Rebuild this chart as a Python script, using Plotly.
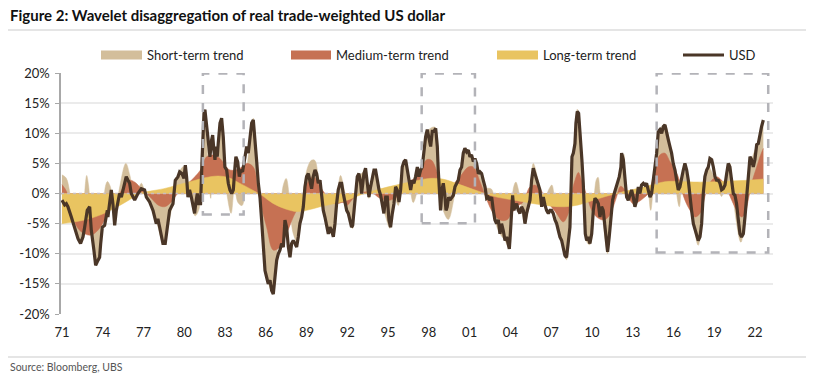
import plotly.graph_objects as go

# ---------------- data ----------------
usd_points = [
    (1971.00, -1.1), (1971.20, -1.9), (1971.32, -1.7), (1971.44, -2.2), (1971.69, -3.9), (1971.93, -5.6),
    (1972.18, -7.5), (1972.37, -8.3), (1972.55, -7.2), (1972.67, -5.6), (1972.86, -2.8), (1973.04, -2.2),
    (1973.16, -6.1), (1973.35, -9.4), (1973.48, -11.9), (1973.65, -11.1), (1973.77, -10.6), (1973.85, -8.3),
    (1973.97, -5.6), (1974.14, -5.3), (1974.34, -2.8), (1974.38, -3.9), (1974.51, -1.4), (1974.63, 0.6),
    (1974.75, -1.7), (1974.88, -5.3), (1975.00, -2.8), (1975.12, -1.1), (1975.24, 0.0), (1975.37, -0.6),
    (1975.49, 0.6), (1975.61, 1.7), (1975.73, 2.8), (1975.86, 2.2), (1975.98, 1.7), (1976.10, 0.0),
    (1976.35, -1.1), (1976.59, 0.0), (1976.84, 0.8), (1977.08, 0.6), (1977.21, -0.6), (1977.45, -1.4),
    (1977.70, -2.8), (1977.94, -5.0), (1978.06, -4.2), (1978.19, -5.6), (1978.43, -8.3), (1978.60, -8.3),
    (1978.75, -6.1), (1978.92, -2.8), (1979.17, -1.7), (1979.34, 2.2), (1979.54, 2.8), (1979.66, 3.6),
    (1979.83, 3.3), (1979.98, 2.5), (1980.08, 4.7), (1980.17, 2.8), (1980.27, -0.6), (1980.39, 0.6),
    (1980.52, -0.6), (1980.64, -1.7), (1980.76, -3.3), (1980.84, -1.7), (1980.96, 0.0), (1981.06, -1.7),
    (1981.20, -1.7), (1981.30, 5.0), (1981.38, 10.0), (1981.45, 13.3), (1981.52, 13.9), (1981.65, 11.1),
    (1981.77, 7.8), (1981.89, 6.1), (1982.01, 8.9), (1982.09, 9.7), (1982.18, 7.2), (1982.26, 5.6),
    (1982.33, 7.8), (1982.43, 6.1), (1982.50, 8.3), (1982.63, 11.7), (1982.75, 12.5), (1982.87, 9.4),
    (1982.99, 4.4), (1983.12, 3.9), (1983.24, 1.7), (1983.36, 0.6), (1983.49, 0.0), (1983.61, 0.6),
    (1983.73, 4.4), (1983.80, 6.1), (1983.93, 5.3), (1984.05, 2.8), (1984.15, 3.9), (1984.29, 3.6),
    (1984.47, 6.1), (1984.59, 7.8), (1984.71, 6.7), (1984.83, 8.9), (1984.96, 11.7), (1985.08, 12.2),
    (1985.20, 9.4), (1985.32, 5.6), (1985.45, 1.7), (1985.57, -0.6), (1985.69, -4.4), (1985.82, -8.9),
    (1985.94, -12.8), (1986.06, -13.9), (1986.18, -15.0), (1986.31, -14.4), (1986.43, -16.1), (1986.55, -16.7),
    (1986.67, -13.3), (1986.80, -11.1), (1986.92, -10.0), (1987.04, -9.4), (1987.16, -8.3), (1987.29, -8.9),
    (1987.41, -4.4), (1987.53, -5.6), (1987.66, -8.9), (1987.78, -10.6), (1987.90, -8.3), (1988.02, -7.8),
    (1988.15, -8.3), (1988.27, -8.9), (1988.39, -7.2), (1988.51, -5.0), (1988.64, -3.9), (1988.76, -2.2),
    (1988.88, 1.1), (1989.00, 2.8), (1989.13, 3.3), (1989.25, 2.2), (1989.37, 0.8), (1989.49, 2.8),
    (1989.62, 3.9), (1989.74, 3.3), (1989.86, 1.7), (1989.99, 2.2), (1990.11, -0.6), (1990.23, -2.8),
    (1990.35, -3.9), (1990.48, -5.6), (1990.60, -6.7), (1990.72, -5.6), (1990.84, -6.1), (1990.97, -7.2),
    (1991.09, -5.0), (1991.21, -1.7), (1991.33, 0.6), (1991.46, 1.7), (1991.58, 1.7), (1991.70, 0.0),
    (1991.82, -1.1), (1991.95, -2.8), (1992.07, -3.3), (1992.19, -4.4), (1992.31, -5.6), (1992.39, -5.3),
    (1992.49, -2.8), (1992.61, 0.0), (1992.73, 2.8), (1992.85, 3.3), (1992.98, 1.7), (1993.05, 0.0),
    (1993.12, 1.7), (1993.22, 3.3), (1993.34, 4.2), (1993.47, 1.7), (1993.59, -0.6), (1993.71, 1.1),
    (1993.83, 2.2), (1993.96, 3.9), (1994.08, 3.9), (1994.20, 2.2), (1994.33, 0.6), (1994.45, -0.3),
    (1994.57, -1.7), (1994.69, -3.3), (1994.82, -0.6), (1994.94, -0.6), (1995.06, -4.4), (1995.18, -5.6),
    (1995.31, -3.3), (1995.43, -1.7), (1995.55, 1.1), (1995.67, 0.6), (1995.80, -1.4), (1995.92, 0.6),
    (1996.04, 4.4), (1996.17, 5.3), (1996.29, 5.6), (1996.41, 3.9), (1996.53, 1.7), (1996.66, 0.6),
    (1996.78, 2.2), (1996.90, 1.7), (1997.02, 2.8), (1997.15, 4.4), (1997.27, 2.8), (1997.39, 3.9),
    (1997.51, 4.4), (1997.64, 7.2), (1997.76, 9.4), (1997.88, 10.6), (1998.00, 9.4), (1998.13, 7.8),
    (1998.25, 10.3), (1998.37, 10.3), (1998.50, 10.8), (1998.62, 7.8), (1998.69, 3.9), (1998.77, -0.6),
    (1998.86, -2.8), (1998.96, 0.6), (1999.06, 1.7), (1999.16, 0.0), (1999.26, -2.8), (1999.35, -2.2),
    (1999.45, -0.6), (1999.55, -1.1), (1999.67, -0.6), (1999.80, -0.3), (1999.92, 1.1), (2000.04, 1.7),
    (2000.16, 2.2), (2000.29, 3.9), (2000.41, 4.4), (2000.53, 6.7), (2000.65, 7.5), (2000.78, 6.9),
    (2000.90, 7.2), (2001.02, 6.1), (2001.14, 6.4), (2001.27, 5.3), (2001.39, 5.8), (2001.51, 5.0),
    (2001.64, 3.3), (2001.76, 3.6), (2001.88, 3.3), (2002.00, 2.2), (2002.13, 1.1), (2002.25, -0.8),
    (2002.37, -0.6), (2002.49, -1.1), (2002.62, -0.6), (2002.74, -2.8), (2002.86, -4.4), (2002.98, -5.0),
    (2003.11, -4.4), (2003.23, -6.7), (2003.35, -5.0), (2003.47, -6.1), (2003.60, -7.8), (2003.72, -7.2),
    (2003.84, -8.9), (2003.92, -9.2), (2004.01, -6.1), (2004.09, -2.8), (2004.16, -0.3), (2004.26, -2.8),
    (2004.33, -2.2), (2004.46, -1.7), (2004.58, -2.8), (2004.70, -3.3), (2004.82, -2.2), (2004.95, -2.8),
    (2005.07, -5.0), (2005.19, -3.3), (2005.31, -2.2), (2005.44, -1.1), (2005.56, 2.2), (2005.68, 4.2),
    (2005.80, 3.3), (2005.93, 2.2), (2006.05, 1.7), (2006.17, 0.6), (2006.30, -2.2), (2006.42, -0.6),
    (2006.54, -1.9), (2006.66, -2.8), (2006.79, -3.3), (2006.91, -2.8), (2007.03, -2.8), (2007.15, -3.3),
    (2007.28, -4.4), (2007.40, -5.0), (2007.52, -6.1), (2007.64, -7.2), (2007.77, -7.8), (2007.89, -9.4),
    (2008.01, -10.3), (2008.13, -10.6), (2008.26, -8.3), (2008.38, -5.6), (2008.45, 0.0), (2008.53, 6.1),
    (2008.63, 6.7), (2008.75, 8.3), (2008.82, 11.7), (2008.92, 13.6), (2009.02, 13.3), (2009.12, 10.6),
    (2009.19, 7.8), (2009.26, 5.6), (2009.36, 1.7), (2009.43, -2.8), (2009.51, -6.7), (2009.61, -7.8),
    (2009.73, -7.2), (2009.85, -8.3), (2009.98, -6.7), (2010.10, -2.8), (2010.22, -0.8), (2010.34, -1.1),
    (2010.47, -1.7), (2010.59, -3.9), (2010.71, -2.2), (2010.83, -2.8), (2010.96, -5.6), (2011.08, -9.4),
    (2011.15, -9.7), (2011.27, -7.2), (2011.40, -3.9), (2011.52, -1.1), (2011.64, 0.0), (2011.77, 1.1),
    (2011.89, 1.7), (2012.01, 2.8), (2012.13, 4.4), (2012.18, 6.7), (2012.31, 5.6), (2012.43, 2.2),
    (2012.55, -0.6), (2012.67, -1.1), (2012.80, -0.3), (2012.92, 0.6), (2013.04, -0.6), (2013.16, -2.2),
    (2013.29, -1.1), (2013.41, 1.1), (2013.53, 0.0), (2013.65, 1.4), (2013.78, 1.7), (2013.90, 1.4),
    (2014.02, 1.7), (2014.14, 0.6), (2014.27, -0.6), (2014.39, 0.0), (2014.51, 2.2), (2014.64, 4.4),
    (2014.76, 6.7), (2014.88, 10.3), (2015.00, 10.6), (2015.13, 10.0), (2015.25, 11.1), (2015.37, 11.4),
    (2015.49, 10.0), (2015.62, 8.9), (2015.74, 7.8), (2015.86, 6.7), (2015.98, 5.0), (2016.11, 3.9),
    (2016.23, 2.2), (2016.35, 0.6), (2016.47, 1.1), (2016.60, 2.8), (2016.72, 3.9), (2016.84, 5.0),
    (2016.97, 3.9), (2017.09, 2.2), (2017.21, -0.6), (2017.33, -2.8), (2017.46, -5.0), (2017.58, -6.1),
    (2017.70, -7.2), (2017.82, -7.8), (2017.95, -7.2), (2018.07, -5.0), (2018.19, 0.0), (2018.31, 2.8),
    (2018.44, 3.9), (2018.56, 4.4), (2018.68, 5.8), (2018.81, 5.6), (2018.93, 4.4), (2019.05, 2.8),
    (2019.17, 2.2), (2019.30, 2.2), (2019.42, 1.7), (2019.54, 0.6), (2019.66, 0.8), (2019.79, 1.4),
    (2019.91, 3.3), (2020.03, 5.0), (2020.15, 4.4), (2020.28, 1.7), (2020.40, 0.0), (2020.52, -0.3),
    (2020.64, -1.7), (2020.77, -4.4), (2020.89, -6.7), (2021.01, -7.2), (2021.14, -6.7), (2021.26, -3.9),
    (2021.38, -0.6), (2021.50, 2.8), (2021.63, 6.1), (2021.75, 5.6), (2021.87, 4.4), (2021.99, 5.6),
    (2022.12, 8.1), (2022.24, 8.3), (2022.36, 10.0), (2022.48, 11.1), (2022.61, 12.2),
]

short_points = [
    (1971.00, 3.1), (1971.30, 2.6), (1971.55, 0.5), (1971.80, -4.5), (1972.10, -6.5), (1972.40, -8.0),
    (1972.60, -4.0), (1972.70, 1.0), (1972.82, 3.0), (1972.95, 1.5), (1973.05, -1.0), (1973.30, -8.5),
    (1973.50, -11.5), (1973.75, -10.0), (1974.05, -3.0), (1974.20, 1.2), (1974.35, 2.0), (1974.50, 1.5),
    (1974.65, 0.3), (1974.85, -4.0), (1975.20, 0.5), (1975.70, 5.0), (1976.00, 3.0), (1976.35, -1.0),
    (1976.70, 1.2), (1976.85, 1.7), (1977.00, 1.0), (1977.20, 0.0), (1977.60, -2.5), (1978.00, -5.0),
    (1978.45, -8.3), (1978.80, -5.5), (1979.20, -1.0), (1979.60, 3.5), (1980.00, 4.5), (1980.40, 0.5),
    (1980.80, -3.7), (1981.10, -2.5), (1981.28, 8.0), (1981.50, 13.5), (1981.75, 6.0), (1981.95, -0.8),
    (1982.15, 5.0), (1982.40, 4.0), (1982.70, 12.0), (1982.90, 6.0), (1983.20, -1.0), (1983.45, -3.3),
    (1983.70, 1.0), (1983.95, -1.5), (1984.25, -2.0), (1984.55, 3.0), (1984.85, 9.0), (1985.08, 12.5),
    (1985.35, 4.0), (1985.60, -2.0), (1985.90, -11.0), (1986.10, -14.0), (1986.45, -16.3), (1986.65, -13.5),
    (1986.90, -8.0), (1987.10, -2.0), (1987.30, 1.5), (1987.50, 2.5), (1987.75, -1.0), (1988.00, -6.5),
    (1988.30, -8.0), (1988.60, -4.0), (1988.90, 2.5), (1989.10, 4.5), (1989.35, 5.5), (1989.60, 5.5),
    (1989.85, 3.0), (1990.10, -1.0), (1990.40, -4.5), (1990.70, -6.5), (1991.00, -6.8), (1991.25, -1.0),
    (1991.50, 3.0), (1991.82, 0.0), (1992.19, -5.0), (1992.39, -5.8), (1992.68, 1.0), (1992.93, 3.0),
    (1993.22, 3.5), (1993.59, -0.8), (1993.91, 3.8), (1994.15, 3.0), (1994.52, -1.5), (1994.77, -3.5),
    (1995.14, -5.8), (1995.50, -1.0), (1995.75, -2.0), (1995.99, 3.0), (1996.24, 5.5), (1996.61, 1.0),
    (1996.85, -1.5), (1997.34, 2.5), (1997.71, 8.0), (1997.96, 10.5), (1998.45, 11.0), (1998.69, 3.0),
    (1998.94, -2.0), (1999.43, -4.3), (1999.92, 0.0), (2000.29, 3.5), (2000.65, 7.5), (2001.02, 6.5),
    (2001.39, 5.5), (2001.76, 3.0), (2002.13, 1.0), (2002.62, 0.7), (2002.86, -4.5), (2003.23, -6.7),
    (2003.60, -7.8), (2003.92, -9.2), (2004.09, -2.0), (2004.25, 1.2), (2004.40, 1.9), (2004.55, 1.0),
    (2004.75, -1.5), (2005.07, -5.0), (2005.44, -1.0), (2005.68, 5.0), (2006.05, 2.0), (2006.30, -2.0),
    (2006.60, -0.5), (2006.90, 1.0), (2007.05, 1.4), (2007.20, 0.0), (2007.45, -5.0), (2007.89, -9.5),
    (2008.13, -11.0), (2008.38, -6.0), (2008.63, 6.5), (2008.92, 14.0), (2009.12, 11.0), (2009.36, 2.0),
    (2009.61, -8.0), (2009.85, -8.5), (2010.20, 0.5), (2010.32, 2.3), (2010.45, 2.7), (2010.58, 0.5),
    (2010.75, -3.0), (2011.15, -10.0), (2011.45, -2.0), (2011.81, 1.0), (2012.18, 4.5), (2012.35, 6.5),
    (2012.55, 0.0), (2012.80, -1.0), (2013.16, -2.0), (2013.53, -0.5), (2014.02, 1.5), (2014.32, -2.8),
    (2014.51, 1.0), (2014.76, 6.5), (2015.00, 10.5), (2015.37, 11.5), (2015.74, 8.0), (2016.11, 2.0),
    (2016.43, -2.2), (2016.72, 4.0), (2016.97, 3.0), (2017.33, -3.0), (2017.82, -8.6), (2018.19, -1.0),
    (2018.56, 4.5), (2018.93, 3.0), (2019.30, 1.0), (2019.54, -0.5), (2019.96, 4.0), (2020.15, 5.0),
    (2020.40, -1.0), (2020.96, -8.1), (2021.38, -1.0), (2021.75, 5.5), (2022.12, 8.0), (2022.48, 10.5),
    (2022.61, 12.0),
]

medium_points = [
    (1971.00, 1.5), (1971.35, 0.3), (1971.55, -1.5), (1971.80, -4.0), (1972.18, -5.8), (1972.67, -6.7),
    (1973.16, -6.9), (1973.65, -6.1), (1974.14, -4.4), (1974.63, -2.2), (1975.00, -0.6), (1975.24, 0.0),
    (1975.61, 1.4), (1975.98, 2.2), (1976.35, 1.9), (1976.84, 0.8), (1977.21, 0.0), (1977.57, -0.8),
    (1978.06, -1.9), (1978.55, -2.2), (1979.05, -1.4), (1979.41, -0.3), (1979.78, 0.8), (1980.52, 2.2),
    (1981.16, 3.8), (1981.65, 6.1), (1982.14, 6.4), (1982.63, 5.8), (1983.36, 3.9), (1984.10, 4.2),
    (1984.59, 5.0), (1985.08, 4.4), (1985.45, 0.0), (1986.06, -5.6), (1986.55, -9.4), (1987.04, -8.9),
    (1987.53, -6.7), (1988.02, -3.9), (1988.51, -1.7), (1988.76, 0.0), (1989.00, 1.5), (1989.49, 2.8),
    (1989.99, 1.1), (1990.35, 0.0), (1990.72, -1.4), (1991.21, -1.7), (1991.70, -1.5), (1991.95, -2.0),
    (1992.44, -0.8), (1992.93, 0.0), (1993.42, 0.3), (1993.91, 0.0), (1994.40, -0.8), (1995.14, -1.1),
    (1995.63, -0.6), (1996.12, 0.5), (1996.61, 2.0), (1997.22, 3.0), (1997.83, 5.6), (1998.20, 5.5),
    (1998.81, 2.2), (1999.31, 0.0), (1999.80, 1.5), (2000.29, 2.8), (2000.90, 4.4), (2001.27, 4.4),
    (2001.76, 2.0), (2002.25, -1.0), (2002.74, -3.3), (2003.23, -4.4), (2003.72, -4.4), (2004.09, -3.3),
    (2004.46, -2.2), (2004.95, -1.4), (2005.19, 0.0), (2005.44, 1.1), (2005.80, 1.4), (2006.17, 0.8),
    (2006.54, -0.6), (2006.91, -1.9), (2007.40, -3.3), (2007.89, -4.7), (2008.26, -3.3), (2008.50, 0.0),
    (2008.75, 2.2), (2009.00, 3.5), (2009.24, 2.2), (2009.61, -0.3), (2009.98, -2.8), (2010.34, -3.9),
    (2010.83, -4.4), (2011.20, -3.9), (2011.57, -2.2), (2011.81, -0.6), (2012.10, 1.2), (2012.43, 0.6),
    (2012.67, -0.6), (2013.04, -1.7), (2013.41, -1.4), (2013.78, -0.8), (2014.14, 0.0), (2014.39, 1.7),
    (2014.64, 4.4), (2015.00, 6.4), (2015.37, 6.7), (2015.74, 5.3), (2016.11, 3.9), (2016.35, 2.8),
    (2016.60, 0.6), (2016.84, -1.1), (2017.21, -2.8), (2017.58, -3.9), (2017.95, -3.3), (2018.19, -1.7),
    (2018.44, 0.6), (2018.81, 2.2), (2019.17, 2.8), (2019.54, 2.2), (2019.91, 0.8), (2020.28, -1.1),
    (2020.64, -2.8), (2021.01, -3.9), (2021.26, -3.3), (2021.50, -1.1), (2021.75, 1.7), (2022.12, 4.4),
    (2022.36, 6.1), (2022.61, 7.5),
]

long_points = [
    (1971.0, -5.0), (1972.0, -4.7), (1973.0, -4.2), (1974.0, -3.4), (1975.0, -2.3), (1976.0, -1.0),
    (1976.7, 0.0), (1977.5, 0.4), (1978.5, 0.8), (1979.5, 1.4), (1980.5, 2.0), (1981.5, 2.6),
    (1982.5, 2.9), (1983.3, 2.6), (1984.0, 1.8), (1985.0, 0.6), (1985.7, -0.3), (1986.5, -1.6),
    (1987.5, -2.6), (1988.3, -3.0), (1989.0, -2.8), (1990.0, -2.2), (1991.0, -1.7), (1992.0, -1.1),
    (1993.0, -0.2), (1994.0, 0.5), (1995.0, 1.1), (1996.0, 1.6), (1997.0, 2.1), (1998.0, 2.5),
    (1999.0, 2.4), (2000.0, 1.7), (2001.0, 0.9), (2002.0, 0.1), (2003.0, -0.6), (2004.0, -1.0),
    (2005.0, -1.4), (2006.0, -1.8), (2007.0, -2.1), (2008.0, -2.2), (2009.0, -1.9), (2010.0, -1.2),
    (2011.0, -0.5), (2011.8, 0.0), (2012.5, 0.4), (2013.5, 0.9), (2014.5, 1.5), (2015.5, 2.0),
    (2016.5, 2.0), (2017.5, 1.9), (2018.5, 1.9), (2019.5, 2.0), (2020.5, 2.1), (2021.5, 2.2),
    (2022.61, 2.4),
]

series_names = ["Short-term trend", "Medium-term trend", "Long-term trend", "USD"]
tick_years = [1971, 1974, 1977, 1980, 1983, 1986, 1989, 1992, 1995, 1998, 2001, 2004, 2007, 2010, 2013,
              2016, 2019, 2022]
tick_labels = ["71", "74", "77", "80", "83", "86", "89", "92", "95", "98", "01", "04", "07", "10", "13",
               "16", "19", "22"]
y_ticks = [-20, -15, -10, -5, 0, 5, 10, 15, 20]
y_tick_labels = ["-20%", "-15%", "-10%", "-5%", "0%", "5%", "10%", "15%", "20%"]
# highlighted periods: (start, end, lower bound of box)
highlight_periods = [(1981.37, 1984.37, -3.5), (1997.47, 2001.39, -4.95), (2014.76, 2022.97, -9.8)]

title_text = "Figure 2: Wavelet disaggregation of real trade-weighted US dollar"
source_text = "Source: Bloomberg, UBS"

# ---------------- styling ----------------
TAN, RED, YEL, BROWN = "#D3BE9B", "#C67153", "#E9C461", "#4A3627"
FONT = "Lato"
TXT = "#222222"
W, H = 828, 374
PL, PR, PT, PB = 61, 773, 73, 314
X_RANGE = [1970.93, 1970.93 + (PR - PL) / 13.59]


def px(x):
    return (x - PL) / (PR - PL)


def py(y):
    return (PB - y) / (PB - PT)


def unzip(points):
    return [p[0] for p in points], [p[1] for p in points]


fig = go.Figure()
area_specs = [(short_points, TAN, series_names[0]),
              (medium_points, RED, series_names[1]),
              (long_points, YEL, series_names[2])]
for pts, col, name in area_specs:
    xs, ys = unzip(pts)
    fig.add_trace(go.Scatter(x=xs, y=ys, name=name, mode="lines", fill="tozeroy",
                             fillcolor=col, line=dict(color=col, width=0.5, shape="spline", smoothing=1.0),
                             showlegend=False, hoverinfo="skip"))

ux, uy = unzip(usd_points)
# dotted zero reference line
fig.add_trace(go.Scatter(x=[X_RANGE[0], ux[-1]], y=[0, 0], mode="lines",
                         line=dict(color="#C9BDBD", width=1.5, dash="dot"),
                         showlegend=False, hoverinfo="skip"))
fig.add_trace(go.Scatter(x=ux, y=uy, name=series_names[3], mode="lines",
                         line=dict(color=BROWN, width=3.2), showlegend=False))

shapes = []
for x0, x1, ylo in highlight_periods:
    shapes.append(dict(type="rect", xref="x", yref="y", x0=x0, x1=x1, y0=ylo, y1=19.9,
                       line=dict(color="#B3B3B8", width=2.5, dash="dash"), fillcolor="rgba(0,0,0,0)",
                       layer="above"))

# header / footer rules
shapes.append(dict(type="line", xref="paper", yref="paper", x0=px(8), x1=px(806), y0=py(30), y1=py(30),
                   line=dict(color="#CCCCCC", width=1.2)))
shapes.append(dict(type="line", xref="paper", yref="paper", x0=px(8), x1=px(806), y0=py(357), y1=py(357),
                   line=dict(color="#CCCCCC", width=1.2)))

annotations = [
    dict(text="<b>" + title_text + "</b>", xref="paper", yref="paper", x=px(8), y=py(15),
         xanchor="left", yanchor="middle", showarrow=False, font=dict(family=FONT, size=15, color="#111111")),
    dict(text=source_text, xref="paper", yref="paper", x=px(8), y=py(367),
         xanchor="left", yanchor="middle", showarrow=False, font=dict(family=FONT, size=10.5, color="#555555")),
]

# manual legend
legend_items = [(101, 142, TAN, "rect"), (291, 331, RED, "rect"), (497, 538, YEL, "rect"), (683, 724, BROWN, "line")]
for (x0, x1, col, kind), name in zip(legend_items, series_names):
    if kind == "rect":
        shapes.append(dict(type="rect", xref="paper", yref="paper", x0=px(x0), x1=px(x1), y0=py(59.5),
                           y1=py(50.5), fillcolor=col, line=dict(width=0)))
    else:
        shapes.append(dict(type="line", xref="paper", yref="paper", x0=px(x0), x1=px(x1), y0=py(55),
                           y1=py(55), line=dict(color=col, width=3)))
    annotations.append(dict(text=name, xref="paper", yref="paper", x=px(x1 + 3), y=py(55),
                            xanchor="left", yanchor="middle", showarrow=False,
                            font=dict(family=FONT, size=13, color=TXT)))

fig.update_layout(
    width=W, height=H,
    margin=dict(l=PL, r=W - PR, t=PT, b=H - PB, pad=0),
    paper_bgcolor="white", plot_bgcolor="white",
    showlegend=False,
    shapes=shapes, annotations=annotations,
    font=dict(family=FONT, size=13, color=TXT),
    xaxis=dict(range=X_RANGE, tickmode="array", tickvals=tick_years, ticktext=tick_labels,
               showgrid=False, zeroline=False, showline=False, ticks="",
               tickfont=dict(family=FONT, size=13, color=TXT), ticklabelstandoff=9),
    yaxis=dict(range=[-20, 20], tickmode="array", tickvals=y_ticks, ticktext=y_tick_labels,
               showgrid=True, gridcolor="#EBEBEB", gridwidth=1.5, zeroline=False,
               showline=True, linecolor="#A8A8A8", linewidth=1.5,
               ticks="outside", ticklen=4, tickcolor="#A8A8A8", tickwidth=1.2,
               tickfont=dict(family=FONT, size=13, color=TXT), ticklabelstandoff=3),
)

fig.write_html("out.html", config={"displayModeBar": False},
               post_script="document.body.style.margin='0';document.body.style.padding='0';")
